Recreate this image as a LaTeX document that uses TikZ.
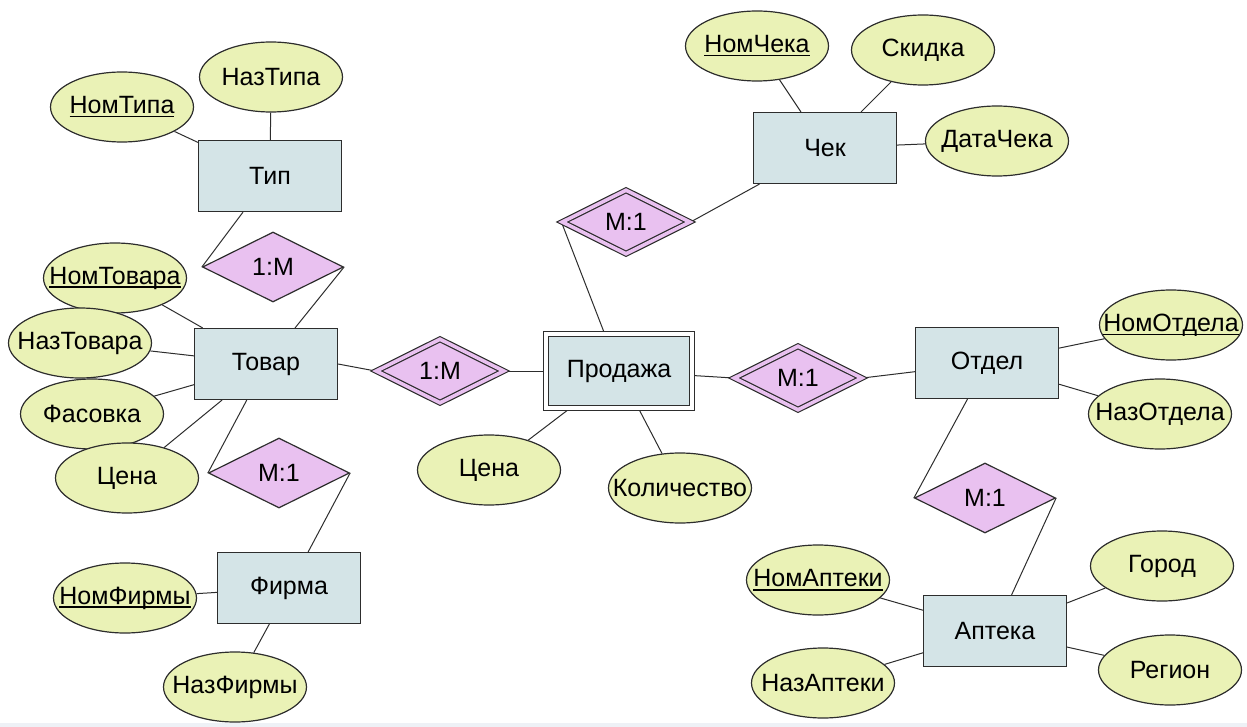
\documentclass[tikz,border=0pt]{standalone}
\usepackage{fontspec}
\setmainfont{Liberation Sans}
\usetikzlibrary{shapes.geometric,positioning,backgrounds}
\definecolor{entfill}{RGB}{212,228,231}
\definecolor{attrfill}{RGB}{234,242,182}
\definecolor{relfill}{RGB}{233,193,240}
\definecolor{edgecol}{RGB}{45,45,45}
\definecolor{stripcol}{RGB}{238,241,246}
\newcommand{\lbl}[1]{\makebox[0pt]{#1}}
\newcommand{\keylbl}[1]{\makebox[0pt]{\setbox0\hbox{#1}\rlap{\rule[-1.9pt]{\wd0}{0.7pt}}\box0}}
\tikzset{
  entity/.style={
    rectangle,
    draw=edgecol, line width=0.6pt,
    fill=entfill,
    minimum width=71.5pt,
    minimum height=35.5pt,
    inner sep=0pt},
  weakentity/.style={
    entity,
    double=white, double distance=2pt,
    minimum width=73pt,
    minimum height=37pt},
  attribute/.style={
    ellipse,
    draw=edgecol, line width=0.6pt,
    fill=attrfill,
    minimum width=71.5pt,
    minimum height=35pt,
    inner sep=0pt},
  relation/.style={
    diamond,
    draw=edgecol, line width=0.6pt,
    fill=relfill,
    minimum width=70.5pt,
    minimum height=35pt,
    inner sep=0pt},
  weakrelation/.style={
    relation,
    double=relfill, double distance=1.8pt,
    minimum width=64pt,
    minimum height=32pt},
}

\begin{document}
\begin{tikzpicture}[
    x=0.5pt, y=-0.5pt,
    link/.style={draw=edgecol, line width=0.5pt},
    every node/.style={font=\fontsize{12.5}{14}\selectfont, text=black}
    ]

    \useasboundingbox (0,0) rectangle (1247,727);
    \fill[stripcol] (0,723) rectangle (1247,727);

    %entities
    \node[entity] (tip) at (270,176) {Тип};
    \node[entity] (tovar) at (266,364) {Товар};
    \node[entity] (firma) at (289,588) {Фирма};
    \node[weakentity] (prodazha) at (619,371) {Продажа};
    \node[entity] (chek) at (825,148) {Чек};
    \node[entity] (otdel) at (987,363) {Отдел};
    \node[entity] (apteka) at (995,631) {Аптека};

    %relationships
    \node[relation] (tipTovar) at (273,267) {1:M};
    \node[weakrelation] (tovarProd) at (440,371) {1:M};
    \node[weakrelation] (prodChek) at (626,222) {M:1};
    \node[weakrelation] (prodOtdel) at (798,378) {M:1};
    \node[relation] (tovarFirma) at (279,473) {M:1};
    \node[relation] (otdelApteka) at (985,498) {M:1};

    %attributes
    \node[attribute] (nomTipa) at (122,107) {\keylbl{НомТипа}};
    \node[attribute] (nazTipa) at (271,77) {\lbl{НазТипа}};
    \node[attribute] (nomTovara) at (115,278) {\keylbl{НомТовара}};
    \node[attribute] (nazTovara) at (80,343) {\lbl{НазТовара}};
    \node[attribute] (fasovka) at (92,414) {\lbl{Фасовка}};
    \node[attribute] (cenaTovara) at (127,478) {\lbl{Цена}};
    \node[attribute] (nomFirmy) at (125,598) {\keylbl{НомФирмы}};
    \node[attribute] (nazFirmy) at (235,687) {\lbl{НазФирмы}};
    \node[attribute] (cenaProd) at (489,470) {\lbl{Цена}};
    \node[attribute] (kolvo) at (680,488) {\lbl{Количество}};
    \node[attribute] (nomCheka) at (757,46) {\keylbl{НомЧека}};
    \node[attribute] (skidka) at (923,50) {\lbl{Скидка}};
    \node[attribute] (dataCheka) at (997,141) {\lbl{ДатаЧека}};
    \node[attribute] (nomOtdela) at (1171,325) {\keylbl{НомОтдела}};
    \node[attribute] (nazOtdela) at (1160,414) {\lbl{НазОтдела}};
    \node[attribute] (nomApteki) at (818,580) {\keylbl{НомАптеки}};
    \node[attribute] (nazApteki) at (823,683) {\lbl{НазАптеки}};
    \node[attribute] (gorod) at (1162,566) {\lbl{Город}};
    \node[attribute] (region) at (1170,670) {\lbl{Регион}};

    \begin{scope}[on background layer]
    %links to relationships
    \draw[link] (tip) -- (tipTovar.west);
    \draw[link] (tipTovar.east) -- (tovar);
    \draw[link] (tovar) -- (tovarFirma.west);
    \draw[link] (tovarFirma.east) -- (firma);
    \draw[link] (tovar.east) -- (tovarProd.west);
    \draw[link] (tovarProd.east) -- (prodazha.west);
    \draw[link] (prodChek.west) -- (prodazha);
    \draw[link] (prodChek.east) -- (chek);
    \draw[link] (prodazha) -- (prodOtdel.west);
    \draw[link] (prodOtdel.east) -- (otdel);
    \draw[link] (otdel) -- (otdelApteka.west);
    \draw[link] (otdelApteka.east) -- (apteka);

    %links to attributes
    \foreach \ent/\att in {tip/nomTipa, tip/nazTipa,
        tovar/nomTovara, tovar/nazTovara, tovar/fasovka, tovar/cenaTovara,
        firma/nomFirmy, firma/nazFirmy,
        prodazha/cenaProd, prodazha/kolvo,
        chek/nomCheka, chek/skidka, chek/dataCheka,
        otdel/nomOtdela, otdel/nazOtdela,
        apteka/nomApteki, apteka/nazApteki, apteka/gorod, apteka/region}
        \draw[link] (\ent) -- (\att);
    \end{scope}

\end{tikzpicture}
\end{document}
